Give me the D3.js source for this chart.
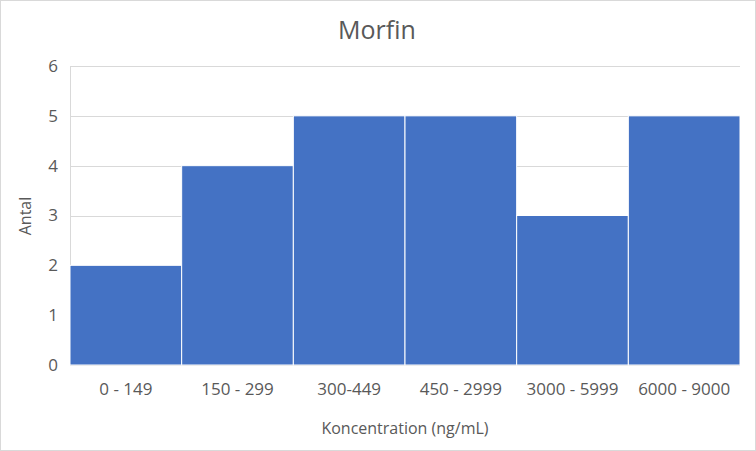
<!DOCTYPE html>
<html><head><meta charset="utf-8">
<script src="https://cdn.jsdelivr.net/npm/d3@7"></script>
<style>body{margin:0;background:#fff}svg{display:block}svg text{font-family:"Open Sans","Noto Sans",sans-serif}</style>
</head><body><svg id="c" width="756" height="451"></svg>
<script>
const categories = ["0 - 149","150 - 299","300-449","450 - 2999","3000 - 5999","6000 - 9000"];
const values = [2,4,5,5,3,5];
const yTicks = [0,1,2,3,4,5,6];
const title = "Morfin";
const xTitle = "Koncentration (ng/mL)";
const yTitle = "Antal";

const svg = d3.select("#c");
const W=756,H=451, m={l:70,r:16,t:66,b:86};
svg.append("rect").attr("x",0.5).attr("y",0.5).attr("width",W-1).attr("height",H-1).attr("fill","#fff").attr("stroke","#d9d9d9");
const x = d3.scaleBand().domain(categories).range([m.l,W-m.r]).padding(0);
const y = d3.scaleLinear().domain([0,6]).range([H-m.b,m.t]);

const g = svg.append("g");
g.selectAll("line.grid").data(yTicks).join("line").attr("class","grid")
 .attr("x1",m.l).attr("x2",W-m.r).attr("y1",d=>Math.round(y(d))+0.5).attr("y2",d=>Math.round(y(d))+0.5)
 .attr("stroke","#d9d9d9").attr("stroke-width",1);
g.append("line").attr("x1",m.l+0.5).attr("x2",m.l+0.5).attr("y1",m.t).attr("y2",H-m.b).attr("stroke","#d9d9d9");

g.selectAll("rect.bar").data(values).join("rect").attr("class","bar")
 .attr("x",(d,i)=>x(categories[i])).attr("width",x.bandwidth())
 .attr("y",d=>y(d)).attr("height",d=>y(0)-y(d))
 .attr("fill","#4472c4").attr("stroke","#fff").attr("stroke-width",1);

const yAxis = d3.axisLeft(y).tickValues(yTicks).tickFormat(d3.format("d")).tickSize(0).tickPadding(12);
const ya = svg.append("g").attr("transform",`translate(${m.l},0)`).call(yAxis);
ya.attr("font-family",null).attr("font-size",null);
ya.select(".domain").remove();
ya.selectAll("text").attr("fill","#595959").style("font-size","17px");

const xAxis = d3.axisBottom(x).tickSize(0).tickPadding(18);
const xa = svg.append("g").attr("transform",`translate(0,${H-m.b})`).call(xAxis);
xa.attr("font-family",null).attr("font-size",null);
xa.select(".domain").remove();
xa.selectAll("text").attr("fill","#595959").style("font-size","17px");

svg.append("text").attr("x",377).attr("y",39).attr("text-anchor","middle").attr("fill","#595959").style("font-size","25px").text(title);
svg.append("text").attr("x",(m.l+W-m.r)/2).attr("y",434).attr("text-anchor","middle").attr("fill","#595959").style("font-size","16px").text(xTitle);
svg.append("text").attr("transform","translate(31,216) rotate(-90)").attr("text-anchor","middle").attr("fill","#595959").style("font-size","16px").text(yTitle);
</script></body></html>
